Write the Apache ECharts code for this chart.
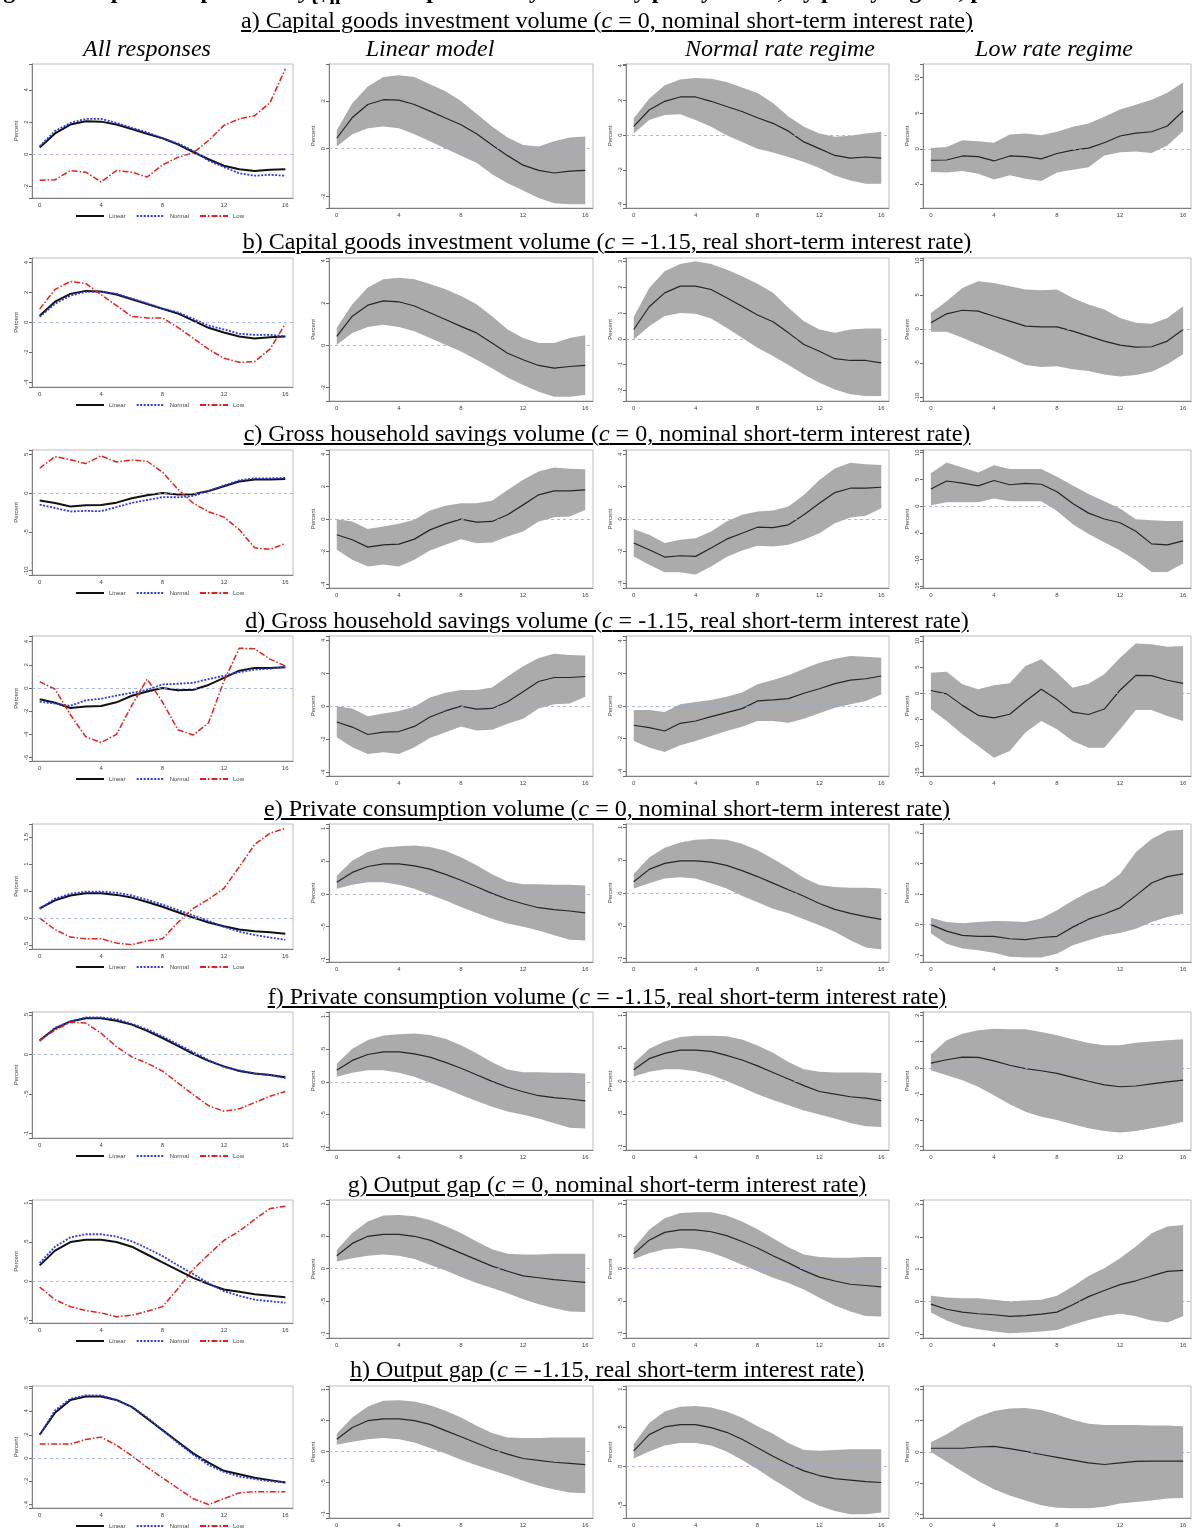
<!DOCTYPE html>
<html>
<head>
<meta charset="utf-8">
<title>Impulse responses</title>
<script src="https://cdn.jsdelivr.net/npm/echarts@6/dist/echarts.min.js"></script>
<style>
  body { margin: 0; background: #fff; }
  #wrap { position: relative; width: 1195px; height: 1528px; overflow: hidden; }
  #main { position: absolute; left: 0; top: 0; width: 1195px; height: 1528px; }
  .t { position: absolute; left: 0; width: 1214px; text-align: center; font-family: "Liberation Serif", serif;
       font-size: 24px; line-height: 26px; text-decoration: underline; text-decoration-thickness: 1.5px;
       text-underline-offset: 2px; color: #000; pointer-events: none; white-space: nowrap; }
  .h { position: absolute; width: 300px; text-align: center; font-family: "Liberation Serif", serif; font-style: italic;
       font-size: 24px; line-height: 26px; color: #000; pointer-events: none; }
  .top { position: absolute; left: -18px; top: -23px; white-space: nowrap; font-family: "Liberation Serif", serif;
         font-weight: bold; font-size: 24px; line-height: 26px; pointer-events: none; }
</style>
</head>
<body>
<div id="wrap">
  <div id="main"></div>
  <div class="top">Figure 4: Impulse responses of <i>y</i><sub>t+h</sub> to an expansionary monetary policy shock, by policy regime, percent</div>
</div>
<script type="text/javascript">
// horizons (quarters after the shock)
var horizons = ['0','1','2','3','4','5','6','7','8','9','10','11','12','13','14','15','16'];
var seriesNames = ['Linear', 'Normal', 'Low'];
var colHeaders = ['All responses', 'Linear model', 'Normal rate regime', 'Low rate regime'];
var panelTitles = [
  'a) Capital goods investment volume (<i>c</i> = 0, nominal short-term interest rate)',
  'b) Capital goods investment volume (<i>c</i> = -1.15, real short-term interest rate)',
  'c) Gross household savings volume (<i>c</i> = 0, nominal short-term interest rate)',
  'd) Gross household savings volume (<i>c</i> = -1.15, real short-term interest rate)',
  'e) Private consumption volume (<i>c</i> = 0, nominal short-term interest rate)',
  'f) Private consumption volume (<i>c</i> = -1.15, real short-term interest rate)',
  'g) Output gap (<i>c</i> = 0, nominal short-term interest rate)',
  'h) Output gap (<i>c</i> = -1.15, real short-term interest rate)'
];

// a) capital goods investment, c = 0
var aLinMid = [0.43,1.3,1.85,2.05,2.03,1.85,1.57,1.28,1.0,0.62,0.15,-0.3,-0.7,-0.92,-1.03,-0.95,-0.92];
var aLinHi  = [0.77,1.9,2.6,3.0,3.08,3.0,2.7,2.4,2.0,1.46,0.92,0.46,0.15,0.08,0.3,0.46,0.5];
var aLinLo  = [0.08,0.6,0.85,0.92,0.85,0.6,0.3,0.0,-0.3,-0.6,-1.08,-1.46,-1.77,-2.08,-2.3,-2.34,-2.34];
var aNorMid = [0.5,1.45,1.95,2.2,2.2,1.95,1.65,1.36,1.0,0.68,0.23,-0.39,-0.78,-1.17,-1.32,-1.26,-1.32];
var aNorHi  = [0.97,2.1,2.87,3.2,3.3,3.25,3.06,2.75,2.43,1.85,1.07,0.49,0.1,-0.1,-0.04,0.1,0.2];
var aNorLo  = [0.1,0.87,1.16,1.2,0.87,0.49,0.0,-0.39,-0.78,-1.0,-1.26,-1.55,-1.9,-2.33,-2.62,-2.8,-2.8];
var aLowMid = [-1.6,-1.57,-1.0,-1.1,-1.7,-1.0,-1.1,-1.4,-0.65,-0.18,0.1,0.86,1.8,2.2,2.4,3.2,5.3];
var aLowHi  = [0.1,0.24,1.2,1.05,0.86,2.0,2.14,1.9,2.4,3.1,3.57,4.5,5.5,6.2,6.9,7.86,9.3];
var aLowLo  = [-3.24,-3.33,-3.1,-3.5,-4.3,-3.7,-4.2,-4.5,-3.33,-2.95,-2.6,-0.95,-0.48,-0.38,-0.57,0.48,2.5];

// b) capital goods investment, c = -1.15
var bLinMid = [0.43,1.38,1.9,2.1,2.06,1.86,1.54,1.22,0.9,0.59,0.11,-0.37,-0.68,-0.95,-1.08,-1.0,-0.95];
var bLinHi  = [0.83,1.94,2.73,3.13,3.2,3.13,2.9,2.65,2.33,1.94,1.38,0.75,0.35,0.11,0.11,0.35,0.48];
var bLinLo  = [0.03,0.59,0.87,0.98,0.87,0.67,0.35,0.03,-0.29,-0.68,-1.08,-1.52,-1.87,-2.19,-2.43,-2.43,-2.35];
var bNorMid = [0.36,1.24,1.78,2.04,2.04,1.91,1.59,1.26,0.92,0.66,0.23,-0.22,-0.48,-0.77,-0.84,-0.84,-0.93];
var bNorHi  = [0.84,1.97,2.62,2.9,3.0,2.9,2.68,2.42,2.13,1.78,1.2,0.68,0.36,0.23,0.36,0.4,0.4];
var bNorLo  = [-0.03,0.49,0.88,1.0,0.97,0.79,0.43,0.04,-0.35,-0.67,-1.02,-1.38,-1.7,-1.96,-2.15,-2.22,-2.22];
var bLowMid = [0.88,2.2,2.73,2.6,1.85,1.12,0.39,0.29,0.29,-0.34,-1.07,-1.8,-2.4,-2.68,-2.63,-1.8,-0.1];
var bLowHi  = [2.34,4.05,6.0,6.98,6.73,6.24,5.76,5.66,5.76,4.54,3.56,2.83,1.6,0.88,0.73,1.6,3.3];
var bLowLo  = [-0.44,-0.44,-1.32,-2.3,-3.27,-4.24,-5.3,-5.6,-5.5,-5.95,-6.2,-6.7,-7.0,-6.8,-6.3,-5.2,-3.75];

// c) household savings, c = 0
var cLinMid = [-0.96,-1.27,-1.72,-1.58,-1.54,-1.23,-0.66,-0.29,0.0,-0.18,-0.14,0.27,0.88,1.5,1.74,1.74,1.8];
var cLinHi  = [0.0,-0.14,-0.61,-0.45,-0.29,-0.04,0.53,0.82,0.98,0.98,1.13,1.8,2.42,2.93,3.18,3.11,3.07];
var cLinLo  = [-1.89,-2.5,-2.91,-2.8,-2.91,-2.5,-1.93,-1.58,-1.23,-1.48,-1.43,-1.07,-0.76,-0.14,0.12,0.16,0.57];
var cNorMid = [-1.5,-1.92,-2.37,-2.29,-2.33,-1.81,-1.26,-0.89,-0.52,-0.54,-0.37,0.25,0.97,1.63,1.9,1.9,1.96];
var cNorHi  = [-0.64,-0.99,-1.5,-1.3,-1.2,-0.78,-0.16,0.25,0.45,0.52,0.76,1.48,2.41,3.13,3.48,3.38,3.34];
var cNorLo  = [-2.33,-2.85,-3.32,-3.32,-3.46,-2.95,-2.37,-1.96,-1.67,-1.71,-1.61,-1.3,-0.89,-0.27,0.08,0.19,0.66];
var cLowMid = [3.2,4.7,4.3,3.8,4.8,4.0,4.25,4.1,2.7,0.5,-1.3,-2.4,-3.1,-4.7,-7.05,-7.25,-6.5];
var cLowHi  = [6.13,8.16,7.24,6.3,7.67,6.93,6.93,6.93,5.52,3.87,2.27,0.92,-0.43,-2.45,-2.64,-2.76,-2.76];
var cLowLo  = [0.18,0.74,0.74,0.74,1.41,0.92,0.92,0.92,-0.92,-3.37,-5.2,-6.75,-8.28,-10.1,-12.3,-12.3,-10.7];

// d) household savings, c = -1.15 (linear model is the same as in c)
var dLinMid = cLinMid, dLinHi = cLinHi, dLinLo = cLinLo;
var dNorMid = [-1.18,-1.33,-1.53,-1.06,-0.92,-0.65,-0.41,-0.16,0.31,0.37,0.45,0.78,1.06,1.37,1.59,1.67,1.84];
var dNorHi  = [-0.24,-0.24,-0.37,0.1,0.24,0.37,0.57,0.82,1.33,1.59,1.88,2.29,2.65,2.9,3.06,3.02,2.96];
var dNorLo  = [-2.14,-2.55,-2.82,-2.41,-2.14,-1.84,-1.53,-1.27,-0.92,-0.92,-1.02,-0.78,-0.45,-0.1,0.1,0.31,0.71];
var dLowMid = [0.55,-0.1,-2.3,-4.2,-4.7,-4.0,-1.5,0.77,-1.2,-3.6,-4.05,-3.0,0.6,3.44,3.38,2.5,1.9];
var dLowHi  = [3.95,4.14,1.72,0.76,1.53,1.91,5.22,6.5,3.95,1.08,1.85,3.63,6.82,9.55,9.36,8.92,9.04];
var dLowLo  = [-3.06,-5.29,-7.83,-10.06,-12.29,-11.0,-7.5,-5.29,-6.88,-9.11,-10.4,-10.4,-6.88,-3.18,-3.18,-4.33,-5.29];

// e) private consumption, c = 0
var eLinMid = [0.18,0.33,0.42,0.46,0.46,0.43,0.38,0.3,0.21,0.11,0.01,-0.08,-0.15,-0.21,-0.24,-0.26,-0.29];
var eLinHi  = [0.28,0.51,0.64,0.71,0.73,0.74,0.72,0.66,0.56,0.44,0.3,0.19,0.15,0.15,0.14,0.14,0.13];
var eLinLo  = [0.08,0.14,0.18,0.18,0.14,0.08,-0.01,-0.1,-0.2,-0.29,-0.38,-0.45,-0.5,-0.56,-0.63,-0.7,-0.71];
var eNorMid = [0.17,0.36,0.45,0.49,0.49,0.47,0.42,0.34,0.25,0.15,0.05,-0.05,-0.16,-0.25,-0.31,-0.36,-0.4];
var eNorHi  = [0.29,0.54,0.69,0.77,0.81,0.82,0.81,0.75,0.65,0.52,0.38,0.23,0.12,0.09,0.08,0.08,0.07];
var eNorLo  = [0.07,0.15,0.22,0.24,0.22,0.15,0.07,-0.04,-0.14,-0.24,-0.31,-0.4,-0.49,-0.59,-0.72,-0.83,-0.86];
var eLowMid = [0.0,-0.21,-0.35,-0.38,-0.38,-0.46,-0.49,-0.42,-0.38,-0.08,0.18,0.35,0.55,0.95,1.36,1.57,1.66];
var eLowHi  = [0.23,0.09,0.05,0.09,0.12,0.11,0.09,0.2,0.47,0.79,1.07,1.28,1.66,2.37,2.8,3.07,3.1];
var eLowLo  = [-0.29,-0.62,-0.78,-0.84,-0.92,-1.05,-1.07,-1.07,-0.95,-0.67,-0.51,-0.35,-0.27,-0.13,0.09,0.25,0.36];

// f) private consumption, c = -1.15
var fLinMid = eLinMid, fLinHi = eLinHi, fLinLo = eLinLo;
var fNorMid = [0.17,0.34,0.42,0.47,0.47,0.45,0.39,0.32,0.23,0.13,0.03,-0.07,-0.16,-0.2,-0.24,-0.26,-0.3];
var fNorHi  = [0.27,0.49,0.6,0.67,0.69,0.69,0.68,0.63,0.54,0.43,0.29,0.18,0.14,0.13,0.13,0.13,0.12];
var fNorLo  = [0.07,0.14,0.18,0.18,0.15,0.09,0.0,-0.1,-0.2,-0.29,-0.37,-0.45,-0.51,-0.57,-0.64,-0.69,-0.7];
var fLowMid = [0.18,0.31,0.41,0.4,0.27,0.1,-0.03,-0.11,-0.21,-0.36,-0.51,-0.65,-0.72,-0.69,-0.61,-0.53,-0.47];
var fLowHi  = [0.51,1.05,1.3,1.43,1.49,1.47,1.47,1.37,1.24,1.09,0.95,0.86,0.86,0.96,1.01,1.05,1.09];
var fLowLo  = [-0.09,-0.28,-0.47,-0.72,-1.04,-1.39,-1.67,-1.86,-1.99,-2.15,-2.3,-2.41,-2.46,-2.41,-2.3,-2.2,-2.05];

// g) output gap, c = 0
var gLinMid = [0.2,0.39,0.5,0.53,0.53,0.5,0.44,0.34,0.24,0.14,0.04,-0.04,-0.11,-0.14,-0.17,-0.19,-0.21];
var gLinHi  = [0.29,0.55,0.73,0.82,0.83,0.81,0.75,0.66,0.55,0.42,0.3,0.23,0.22,0.22,0.23,0.23,0.23];
var gLinLo  = [0.11,0.16,0.2,0.22,0.2,0.15,0.06,-0.03,-0.13,-0.22,-0.3,-0.38,-0.47,-0.55,-0.61,-0.66,-0.67];
var gNorMid = [0.23,0.44,0.56,0.6,0.6,0.57,0.51,0.42,0.32,0.2,0.09,-0.03,-0.13,-0.19,-0.24,-0.26,-0.28];
var gNorHi  = [0.32,0.6,0.78,0.86,0.87,0.87,0.82,0.73,0.61,0.47,0.33,0.22,0.18,0.17,0.17,0.18,0.18];
var gNorLo  = [0.15,0.24,0.3,0.32,0.3,0.25,0.16,0.06,-0.04,-0.14,-0.22,-0.32,-0.45,-0.57,-0.66,-0.73,-0.74];
var gLowMid = [-0.08,-0.24,-0.33,-0.38,-0.41,-0.46,-0.44,-0.39,-0.33,-0.1,0.15,0.34,0.52,0.64,0.79,0.93,0.96];
var gLowHi  = [0.18,0.12,0.1,0.1,0.05,0.0,0.03,0.05,0.18,0.46,0.79,1.03,1.34,1.7,2.11,2.32,2.37];
var gLowLo  = [-0.34,-0.59,-0.77,-0.86,-0.93,-0.98,-0.96,-0.93,-0.88,-0.72,-0.57,-0.46,-0.38,-0.46,-0.59,-0.65,-0.46];

// h) output gap, c = -1.15
var hLinMid = gLinMid, hLinHi = gLinHi, hLinLo = gLinLo;
var hNorMid = [0.2,0.41,0.51,0.54,0.54,0.5,0.44,0.35,0.24,0.13,0.03,-0.06,-0.12,-0.16,-0.18,-0.2,-0.21];
var hNorHi  = [0.29,0.56,0.71,0.77,0.78,0.76,0.71,0.63,0.52,0.42,0.3,0.21,0.2,0.21,0.22,0.22,0.22];
var hNorLo  = [0.1,0.19,0.27,0.3,0.3,0.27,0.19,0.08,-0.04,-0.17,-0.29,-0.42,-0.51,-0.58,-0.62,-0.62,-0.6];
var hLowMid = [0.12,0.12,0.12,0.16,0.18,0.11,0.02,-0.08,-0.17,-0.26,-0.35,-0.4,-0.35,-0.3,-0.29,-0.29,-0.29];
var hLowHi  = [0.31,0.57,0.88,1.13,1.31,1.39,1.41,1.34,1.2,1.03,0.9,0.86,0.86,0.86,0.85,0.85,0.82];
var hLowLo  = [0.0,-0.31,-0.62,-0.93,-1.19,-1.39,-1.55,-1.7,-1.78,-1.8,-1.8,-1.75,-1.65,-1.6,-1.55,-1.49,-1.47];

// y axis [min, max, tick step] for the four columns of each row
var aAxes = [[-2.7, 5.6, 2], [-2.5, 3.55, 2], [-4.2, 4.1, 2], [-8.3, 11.9, 5]];
var bAxes = [[-4.33, 4.3, 2], [-2.63, 4.13, 2], [-2.41, 3.13, 1], [-10.6, 10.4, 5]];
var cAxes = [[-10.55, 5.55, 5], [-4.24, 4.26, 2], [-4.29, 4.27, 2], [-15.3, 10.5, 5]];
var dAxes = [[-6.29, 4.49, 2], [-4.24, 4.26, 2], [-4.29, 4.29, 2], [-15.8, 10.96, 5]];
var eAxes = [[-0.57, 1.74, 0.5], [-1.04, 1.07, 0.5], [-1.05, 1.05, 0.5], [-1.22, 3.29, 1]];
var fAxes = [[-1.06, 0.54, 0.5], [-1.04, 1.07, 0.5], [-1.05, 1.05, 0.5], [-3.13, 2.13, 1]];
var gAxes = [[-0.54, 1.04, 0.5], [-1.07, 1.06, 0.5], [-1.07, 1.06, 0.5], [-1.13, 3.14, 1]];
var hAxes = [[-0.43, 0.62, 0.2], [-1.07, 1.06, 0.5], [-0.67, 1.04, 0.5], [-2.11, 2.11, 1]];

var rows = [
  { lin: [aLinLo, aLinMid, aLinHi], nor: [aNorLo, aNorMid, aNorHi], low: [aLowLo, aLowMid, aLowHi], axes: aAxes },
  { lin: [bLinLo, bLinMid, bLinHi], nor: [bNorLo, bNorMid, bNorHi], low: [bLowLo, bLowMid, bLowHi], axes: bAxes },
  { lin: [cLinLo, cLinMid, cLinHi], nor: [cNorLo, cNorMid, cNorHi], low: [cLowLo, cLowMid, cLowHi], axes: cAxes },
  { lin: [dLinLo, dLinMid, dLinHi], nor: [dNorLo, dNorMid, dNorHi], low: [dLowLo, dLowMid, dLowHi], axes: dAxes },
  { lin: [eLinLo, eLinMid, eLinHi], nor: [eNorLo, eNorMid, eNorHi], low: [eLowLo, eLowMid, eLowHi], axes: eAxes },
  { lin: [fLinLo, fLinMid, fLinHi], nor: [fNorLo, fNorMid, fNorHi], low: [fLowLo, fLowMid, fLowHi], axes: fAxes },
  { lin: [gLinLo, gLinMid, gLinHi], nor: [gNorLo, gNorMid, gNorHi], low: [gLowLo, gLowMid, gLowHi], axes: gAxes },
  { lin: [hLinLo, hLinMid, hLinHi], nor: [hNorLo, hNorMid, hNorHi], low: [hLowLo, hLowMid, hLowHi], axes: hAxes }
];

// page layout
var titleY = [20, 241, 433, 620, 808, 996, 1184, 1369];
var headerY = 48, headerX = [147, 430, 780, 1054];
var boxTop = [64, 258, 450, 636, 824, 1012, 1200, 1386];
var boxBottom = [208, 401, 588, 776, 962, 1150, 1338, 1523];
var col1Bottom = [198, 387, 575, 761, 949, 1138, 1323, 1508];
var colLeft = [32, 329, 626, 923];
var colRight = [293, 593, 889, 1191];

var wrap = document.getElementById('wrap');
panelTitles.forEach(function (t, i) {
  var d = document.createElement('div');
  d.className = 't';
  d.style.top = (titleY[i] - 13) + 'px';
  d.innerHTML = t;
  wrap.appendChild(d);
});
colHeaders.forEach(function (t, i) {
  var d = document.createElement('div');
  d.className = 'h';
  d.style.left = (headerX[i] - 150) + 'px';
  d.style.top = (headerY - 13) + 'px';
  d.textContent = t;
  wrap.appendChild(d);
});

function tickFormatter(step) {
  return function (v) {
    var k = v / step;
    if (Math.abs(k - Math.round(k)) > 1e-6) return '';
    var s = String(Math.round(v * 100) / 100);
    return s.replace(/^(-?)0\./, '$1.');
  };
}

var zeroLine = {
  silent: true, symbol: 'none', animation: false,
  label: { show: false },
  lineStyle: { color: '#9ea6d8', type: [3, 3], width: 0.8 },
  data: [{ yAxis: 0 }]
};

var grids = [], xAxes = [], yAxes = [], series = [], legends = [];
var axisGray = '#6a6a6a';

rows.forEach(function (row, r) {
  for (var c = 0; c < 4; c++) {
    var g = r * 4 + c;
    var bottom = c === 0 ? col1Bottom[r] : boxBottom[r];
    grids.push({
      left: colLeft[c], top: boxTop[r],
      width: colRight[c] - colLeft[c], height: bottom - boxTop[r],
      show: true, borderColor: '#bdbdbd', borderWidth: 1, backgroundColor: '#fff'
    });
    xAxes.push({
      gridIndex: g, type: 'category', data: horizons, boundaryGap: true,
      axisLine: { onZero: false, lineStyle: { color: axisGray, width: 0.8 } },
      axisTick: { interval: 3, alignWithLabel: true, length: 3, lineStyle: { color: axisGray } },
      axisLabel: { interval: 3, fontSize: 6, color: '#444', margin: 4 },
      splitLine: { show: false }
    });
    var ax = row.axes[c];
    yAxes.push({
      gridIndex: g, type: 'value', min: ax[0], max: ax[1],
      minInterval: ax[2], maxInterval: ax[2],
      axisLine: { show: true, onZero: false, lineStyle: { color: axisGray, width: 0.8 } },
      axisTick: { show: true, length: 3, lineStyle: { color: axisGray } },
      axisLabel: { rotate: 90, fontSize: 6, color: '#444', margin: 3, formatter: tickFormatter(ax[2]) },
      splitLine: { show: false },
      name: 'Percent', nameLocation: 'middle', nameGap: 13,
      nameTextStyle: { fontSize: 6, color: '#444' }
    });

    if (c === 0) {
      series.push({
        type: 'line', name: 'Linear', xAxisIndex: g, yAxisIndex: g, data: row.lin[1],
        symbol: 'none', itemStyle: { color: '#111' }, lineStyle: { color: '#111', width: 2 },
        markLine: zeroLine
      });
      series.push({
        type: 'line', name: 'Normal', xAxisIndex: g, yAxisIndex: g, data: row.nor[1],
        symbol: 'none', itemStyle: { color: '#2b3be0' }, lineStyle: { color: '#2b3be0', width: 1.8, type: [2, 1.5] }
      });
      series.push({
        type: 'line', name: 'Low', xAxisIndex: g, yAxisIndex: g, data: row.low[1],
        symbol: 'none', itemStyle: { color: '#e3211c' }, lineStyle: { color: '#e3211c', width: 1.5, type: [6, 2, 1.5, 2] }
      });
    } else {
      var set = c === 1 ? row.lin : (c === 2 ? row.nor : row.low);
      var lo = set[0], mid = set[1], hi = set[2];
      var width = hi.map(function (v, i) { return +(v - lo[i]).toFixed(3); });
      series.push({
        type: 'line', xAxisIndex: g, yAxisIndex: g, data: lo, stack: 'band' + g, stackStrategy: 'all',
        symbol: 'none', silent: true, lineStyle: { opacity: 0 }
      });
      series.push({
        type: 'line', xAxisIndex: g, yAxisIndex: g, data: width, stack: 'band' + g, stackStrategy: 'all',
        symbol: 'none', silent: true, lineStyle: { opacity: 0 },
        areaStyle: { color: '#ababab', opacity: 1 }
      });
      series.push({
        type: 'line', xAxisIndex: g, yAxisIndex: g, data: mid,
        symbol: 'none', lineStyle: { color: '#262626', width: 1.2 },
        markLine: zeroLine
      });
    }
  }
  legends.push({
    data: seriesNames, left: 70, top: col1Bottom[r] + 10,
    itemWidth: 28, itemHeight: 6, itemGap: 10,
    itemStyle: { opacity: 0 },
    textStyle: { fontSize: 6, color: '#444' }
  });
});

var chart = echarts.init(document.getElementById('main'), null, { renderer: 'canvas' });
chart.setOption({
  animation: false,
  backgroundColor: '#fff',
  textStyle: { fontFamily: 'Liberation Sans' },
  grid: grids,
  xAxis: xAxes,
  yAxis: yAxes,
  legend: legends,
  series: series
});
</script>
</body>
</html>
